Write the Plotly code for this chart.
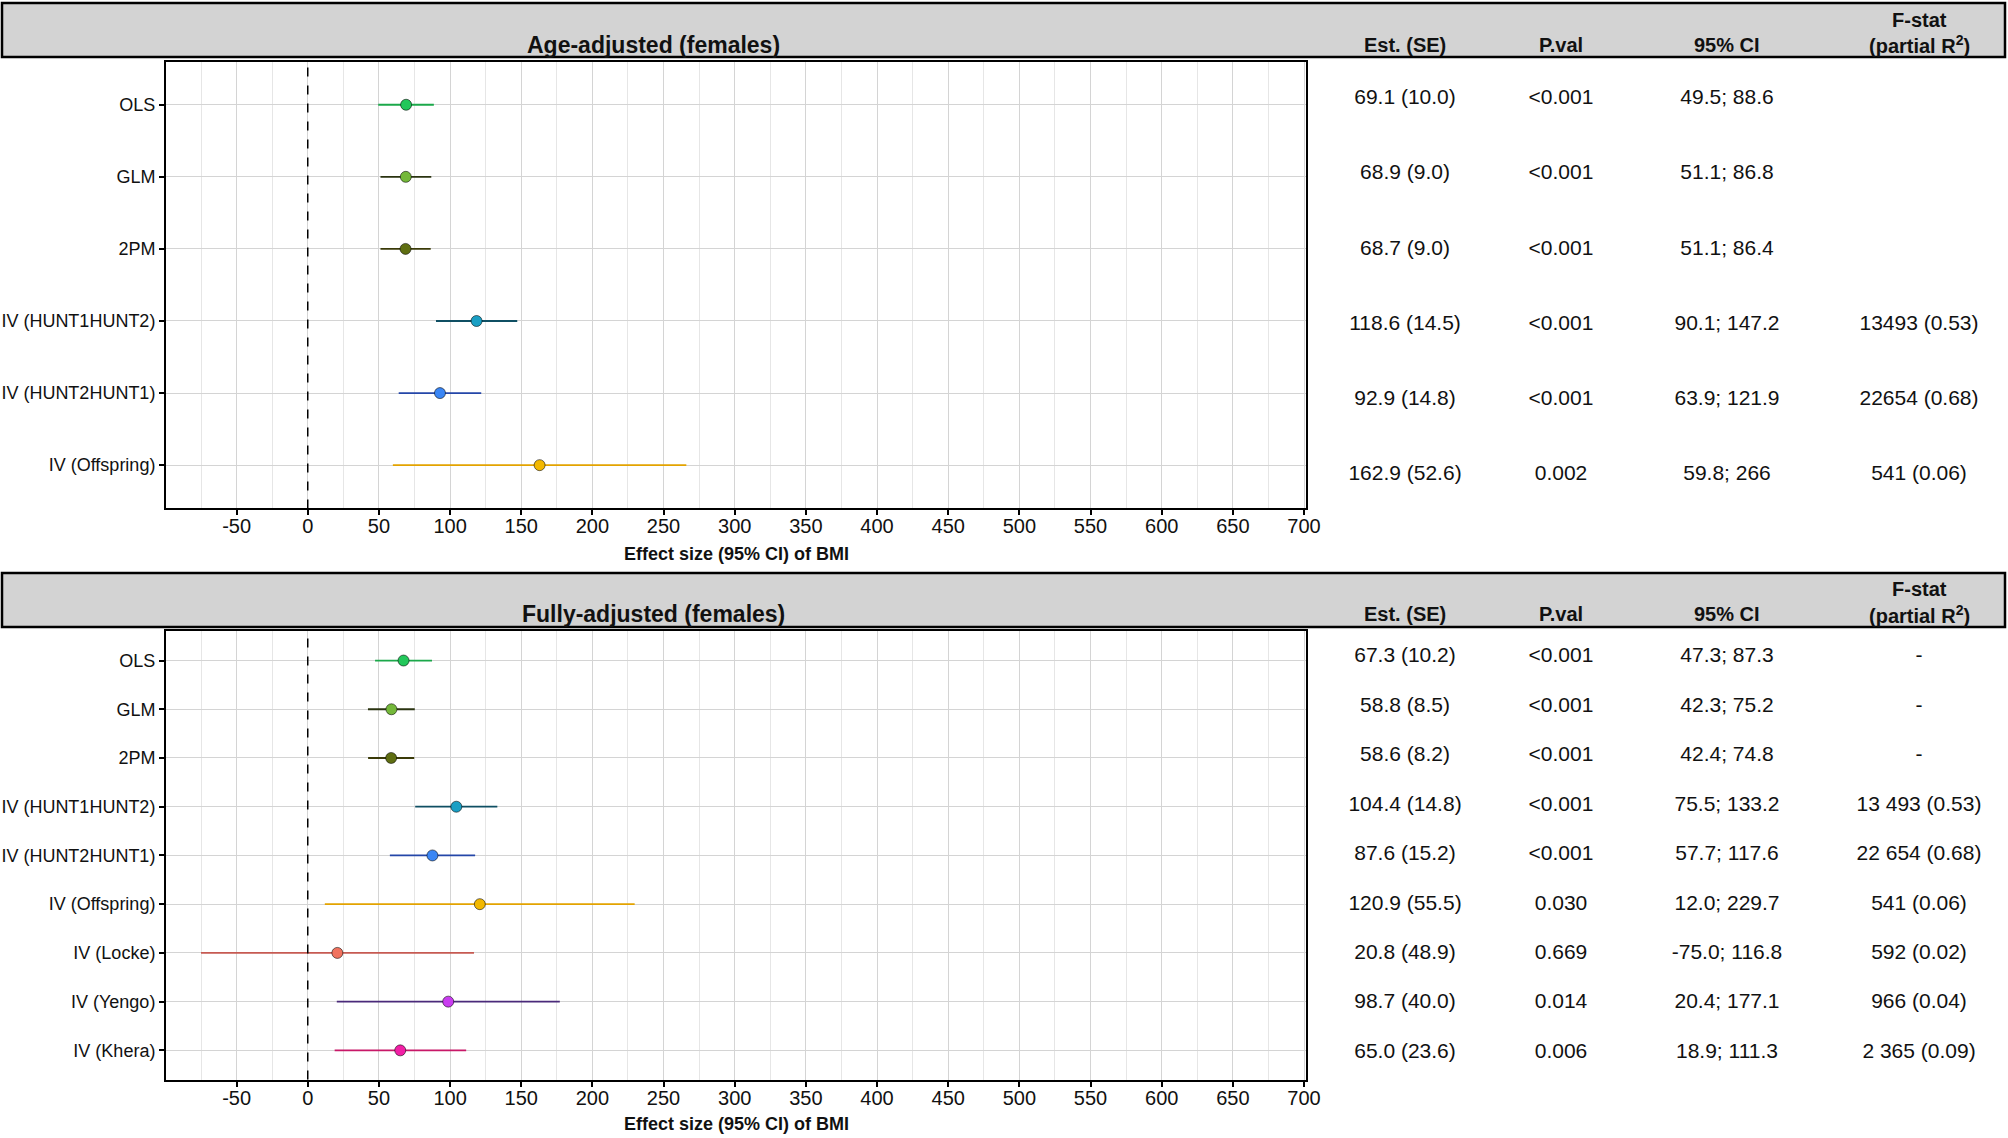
import plotly.graph_objects as go

# ---- data ----
top_labels = ["OLS", "GLM", "2PM", "IV (HUNT1HUNT2)", "IV (HUNT2HUNT1)", "IV (Offspring)"]
top_est = [69.1, 68.9, 68.7, 118.6, 92.9, 162.9]
top_se = [10.0, 9.0, 9.0, 14.5, 14.8, 52.6]
top_lo = [49.5, 51.1, 51.1, 90.1, 63.9, 59.8]
top_hi = [88.6, 86.8, 86.4, 147.2, 121.9, 266]
top_p = ["<0.001", "<0.001", "<0.001", "<0.001", "<0.001", "0.002"]
top_fstat = ["", "", "", "13493 (0.53)", "22654 (0.68)", "541 (0.06)"]

bot_labels = ["OLS", "GLM", "2PM", "IV (HUNT1HUNT2)", "IV (HUNT2HUNT1)", "IV (Offspring)",
              "IV (Locke)", "IV (Yengo)", "IV (Khera)"]
bot_est = [67.3, 58.8, 58.6, 104.4, 87.6, 120.9, 20.8, 98.7, 65.0]
bot_se = [10.2, 8.5, 8.2, 14.8, 15.2, 55.5, 48.9, 40.0, 23.6]
bot_lo = [47.3, 42.3, 42.4, 75.5, 57.7, 12.0, -75.0, 20.4, 18.9]
bot_hi = [87.3, 75.2, 74.8, 133.2, 117.6, 229.7, 116.8, 177.1, 111.3]
bot_p = ["<0.001", "<0.001", "<0.001", "<0.001", "<0.001", "0.030", "0.669", "0.014", "0.006"]
bot_fstat = ["-", "-", "-", "13 493 (0.53)", "22 654 (0.68)", "541 (0.06)",
             "592 (0.02)", "966 (0.04)", "2 365 (0.09)"]

x_ticks = list(range(-50, 701, 50))
col_headers = ["Est. (SE)", "P.val", "95% CI"]

# ---- styles ----
point_col = {"OLS": "#22c75a", "GLM": "#74b83a", "2PM": "#5f6e12",
             "IV (HUNT1HUNT2)": "#1a9fc4", "IV (HUNT2HUNT1)": "#3a86f5",
             "IV (Offspring)": "#f2b800", "IV (Locke)": "#f0725e",
             "IV (Yengo)": "#c93cf0", "IV (Khera)": "#f21fa6"}
line_col = {"OLS": "#1ba84a", "GLM": "#2a3310", "2PM": "#3a3a08",
            "IV (HUNT1HUNT2)": "#0f4f63", "IV (HUNT2HUNT1)": "#2446a8",
            "IV (Offspring)": "#e3a300", "IV (Locke)": "#c65a52",
            "IV (Yengo)": "#4a2a7a", "IV (Khera)": "#c81868"}
FONT = "Liberation Sans, Arial, sans-serif"
W, H = 2008, 1138


def px(x):
    return x / W


def py(y):
    return 1 - y / H


fig = go.Figure()


def add_panel(labels, est, lo, hi, xa, ya):
    for i, lab in enumerate(labels):
        fig.add_trace(go.Scatter(
            x=[est[i]], y=[i + 1], mode="markers", xaxis=xa, yaxis=ya,
            marker=dict(size=11, color=point_col[lab], line=dict(color="rgba(0,0,0,0.55)", width=1)),
            error_x=dict(type="data", symmetric=False, array=[hi[i] - est[i]],
                         arrayminus=[est[i] - lo[i]], width=0, thickness=1.8,
                         color=line_col[lab]),
            showlegend=False, hoverinfo="skip"))


def add_table(est, se, lo, hi, pv, fs, ya):
    rows = list(range(1, len(est) + 1))
    cols = [[f"{e} ({s})" for e, s in zip(est, se)], pv,
            [f"{a}; {b}" for a, b in zip(lo, hi)], fs]
    col_x = [1405, 1561, 1727, 1919]
    for cx, txt in zip(col_x, cols):
        keep = [(r, t) for r, t in zip(rows, txt) if t]
        fig.add_trace(go.Scatter(
            x=[cx] * len(keep), y=[r for r, _ in keep], text=[t for _, t in keep],
            mode="text", xaxis="x3", yaxis=ya,
            textfont=dict(family=FONT, size=21, color="#111111"),
            showlegend=False, hoverinfo="skip"))


add_panel(top_labels, top_est, top_lo, top_hi, "x", "y")
add_panel(bot_labels, bot_est, bot_lo, bot_hi, "x2", "y2")
add_table(top_est, top_se, top_lo, top_hi, top_p, top_fstat, "y3")
add_table(bot_est, bot_se, bot_lo, bot_hi, bot_p, bot_fstat, "y4")

xax = dict(range=[-99.6, 701.4], tickvals=x_ticks, ticktext=[str(t) for t in x_ticks],
           showgrid=True, gridcolor="#d4d4d4", gridwidth=1.2, zeroline=False, automargin=False,
           minor=dict(dtick=25, tick0=0, showgrid=True, gridcolor="#e6e6e6", gridwidth=1, ticks=""),
           showline=True, linecolor="black", linewidth=2, mirror=True,
           ticks="outside", ticklen=5, tickwidth=2, tickcolor="black", ticklabelstandoff=-6,
           tickfont=dict(family=FONT, size=20, color="#111111"), fixedrange=True)
yax = dict(showgrid=True, gridcolor="#d4d4d4", gridwidth=1.2, zeroline=False, automargin=False,
           showline=True, linecolor="black", linewidth=2, mirror=True,
           ticks="outside", ticklen=5, tickwidth=2, tickcolor="black",
           tickfont=dict(family=FONT, size=18, color="#111111"), fixedrange=True)
hidden = dict(visible=False, fixedrange=True, automargin=False)

fig.update_layout(
    template="none",
    width=W, height=H, margin=dict(l=0, r=0, t=0, b=0, pad=0),
    paper_bgcolor="white", plot_bgcolor="rgba(0,0,0,0)", font=dict(family=FONT),
    xaxis=dict(xax, domain=[px(166), px(1306)], anchor="y"),
    yaxis=dict(yax, domain=[py(508.4), py(61.5)], range=[6.6, 0.4],
               tickvals=list(range(1, 7)), ticktext=top_labels, anchor="x"),
    xaxis2=dict(xax, domain=[px(166), px(1306)], anchor="y2"),
    yaxis2=dict(yax, domain=[py(1079.6), py(631.3)], range=[9.6, 0.4],
                tickvals=list(range(1, 10)), ticktext=bot_labels, anchor="x2"),
    xaxis3=dict(hidden, domain=[0, 1], range=[0, W], anchor="y3"),
    yaxis3=dict(hidden, domain=[py(512.8), py(61)], range=[6.5, 0.5], anchor="x3"),
    yaxis4=dict(hidden, domain=[py(1077.4), py(632.3)], range=[9.5, 0.5], anchor="x3"),
)

# zero reference lines
for xr, yr in [("x", "y domain"), ("x2", "y2 domain")]:
    fig.add_shape(type="line", x0=0, x1=0, y0=0, y1=1, xref=xr, yref=yr,
                  line=dict(color="black", width=1.5, dash="dash"))

# header bands
for top, bot in [(3, 57), (573, 627)]:
    fig.add_shape(type="rect", x0=px(2), x1=px(2005), y0=py(bot), y1=py(top),
                  xref="paper", yref="paper", fillcolor="#d3d3d3",
                  line=dict(color="black", width=2.5), layer="below")


def note(text, x, y, size, bold=True):
    if bold:
        text = "<b>" + text + "</b>"
    return dict(text=text, x=px(x), y=py(y), xref="paper", yref="paper", showarrow=False,
                xanchor="center", yanchor="middle",
                font=dict(family=FONT, size=size, color="#111111"))


annots = []
for title, ymid, yf in [("Age-adjusted (females)", 45, 20), ("Fully-adjusted (females)", 614, 589)]:
    annots.append(note(title, 653, ymid, 23))
    for cx, h in zip([1405, 1561, 1727], col_headers):
        annots.append(note(h, cx, ymid, 20))
    annots.append(note("F-stat", 1919, yf, 20))
    annots.append(note("(partial R<sup>2</sup>)", 1919, ymid, 20))

for ymid in [554, 1124]:
    annots.append(note("Effect size (95% CI) of BMI", 736, ymid, 18))

fig.update_layout(annotations=annots)

fig.write_html("out.html", config={"displayModeBar": False},
               post_script="document.body.style.margin='0px';")
